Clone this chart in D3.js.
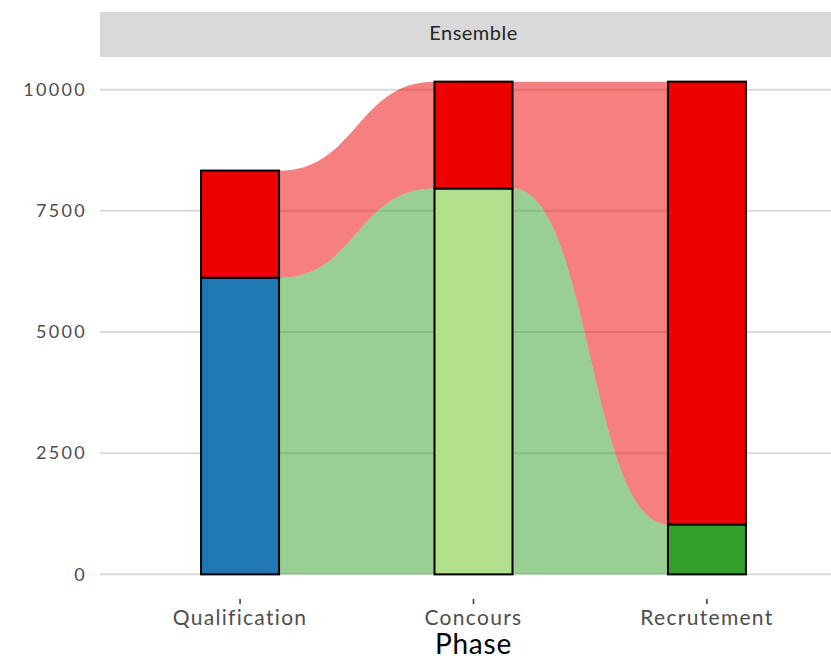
<!DOCTYPE html>
<html>
<head>
<meta charset="utf-8">
<script src="https://cdn.jsdelivr.net/npm/d3@7"></script>
<style>
  body { margin: 0; background: #fff; }
  svg { display: block; font-family: Lato, "Open Sans", sans-serif; }
</style>
</head>
<body>
<svg width="831" height="658"></svg>
<script>
const svg = d3.select("svg");
const width = 831;
const height = 658;

// data
const phases = ['Qualification', 'Concours', 'Recrutement'];
const lowerValues = [6120, 7960, 1030];   // bottom stratum of each phase
const upperValues = [2210, 2205, 9135];   // red stratum on top
const lowerColors = ['#1f78b4', '#b2df8a', '#33a02c'];
const upperColor = '#ee0000';
const yTicks = [0, 2500, 5000, 7500, 10000];
const facetLabel = 'Ensemble';
const xTitle = 'Phase';

const margin = { top: 57, right: -16, bottom: 59, left: 100 };
const innerWidth = width - margin.left - margin.right;
const innerHeight = height - margin.top - margin.bottom;

const totals = phases.map((p, i) => lowerValues[i] + upperValues[i]);
const maxTotal = d3.max(totals);
const pad = maxTotal * 0.05;

const xScale = d3.scalePoint()
  .domain(phases)
  .range([0, innerWidth])
  .padding(0.6);

const yScale = d3.scaleLinear()
  .domain([-pad, maxTotal + pad])
  .range([innerHeight, 0]);

const barWidth = 78;

// facet strip
svg.append('rect')
  .attr('x', margin.left)
  .attr('y', 12)
  .attr('width', innerWidth)
  .attr('height', margin.top - 12)
  .attr('fill', '#d9d9d9');

svg.append('text')
  .attr('x', margin.left + innerWidth / 2)
  .attr('y', 40)
  .attr('text-anchor', 'middle')
  .attr('font-size', 20)
  .attr('letter-spacing', 0.5)
  .attr('fill', '#262626')
  .text(facetLabel);

const g = svg.append('g')
  .attr('transform', `translate(${margin.left},${margin.top})`);

// grid lines
g.append('g').selectAll('line').data(yTicks)
  .enter().append('line')
    .attr('x1', 0)
    .attr('x2', innerWidth)
    .attr('y1', d => yScale(d))
    .attr('y2', d => yScale(d))
    .attr('stroke', '#d9d9d9')
    .attr('stroke-width', 2);

// y labels
g.append('g').selectAll('text').data(yTicks)
  .enter().append('text')
    .attr('x', -13)
    .attr('y', d => yScale(d))
    .attr('dy', '0.35em')
    .attr('text-anchor', 'end')
    .attr('font-size', 18)
    .attr('letter-spacing', 2.3)
    .attr('fill', '#4d4d4d')
    .text(d => d);

// flows between neighbouring phases
const flowData = [];
for (let i = 0; i < phases.length - 1; i++) {
  const x0 = xScale(phases[i]) + barWidth / 2;
  const x1 = xScale(phases[i + 1]) - barWidth / 2;
  flowData.push({
    color: lowerColors[2],
    pts: [
      { x: x0, y0: 0, y1: lowerValues[i] },
      { x: x1, y0: 0, y1: lowerValues[i + 1] }
    ]
  });
  flowData.push({
    color: upperColor,
    pts: [
      { x: x0, y0: lowerValues[i], y1: totals[i] },
      { x: x1, y0: lowerValues[i + 1], y1: totals[i + 1] }
    ]
  });
}

const area = d3.area()
  .x(d => d.x)
  .y0(d => yScale(d.y0))
  .y1(d => yScale(d.y1))
  .curve(d3.curveBumpX);

g.append('g').selectAll('path').data(flowData)
  .enter().append('path')
    .attr('d', d => area(d.pts))
    .attr('fill', d => d.color)
    .attr('fill-opacity', 0.5);

// strata
const barsG = g.append('g');
phases.forEach((p, i) => {
  barsG.append('rect')
    .attr('x', xScale(p) - barWidth / 2)
    .attr('y', yScale(lowerValues[i]))
    .attr('width', barWidth)
    .attr('height', yScale(0) - yScale(lowerValues[i]))
    .attr('fill', lowerColors[i])
    .attr('stroke', '#000')
    .attr('stroke-width', 2);
  barsG.append('rect')
    .attr('x', xScale(p) - barWidth / 2)
    .attr('y', yScale(totals[i]))
    .attr('width', barWidth)
    .attr('height', yScale(lowerValues[i]) - yScale(totals[i]))
    .attr('fill', upperColor)
    .attr('stroke', '#000')
    .attr('stroke-width', 2);
});

// x axis
const xAxisG = g.append('g')
  .attr('transform', `translate(0,${innerHeight})`);

xAxisG.selectAll('line').data(phases)
  .enter().append('line')
    .attr('x1', d => xScale(d))
    .attr('x2', d => xScale(d))
    .attr('y1', 0)
    .attr('y2', 5)
    .attr('stroke', '#333')
    .attr('stroke-width', 1.5);

xAxisG.selectAll('text').data(phases)
  .enter().append('text')
    .attr('x', d => xScale(d))
    .attr('y', 26)
    .attr('text-anchor', 'middle')
    .attr('font-size', 21)
    .attr('letter-spacing', 1.3)
    .attr('fill', '#4d4d4d')
    .text(d => d);

svg.append('text')
  .attr('x', margin.left + innerWidth / 2)
  .attr('y', 654)
  .attr('text-anchor', 'middle')
  .attr('font-size', 28)
  .attr('letter-spacing', 0.8)
  .attr('fill', '#000')
  .text(xTitle);
</script>
</body>
</html>
